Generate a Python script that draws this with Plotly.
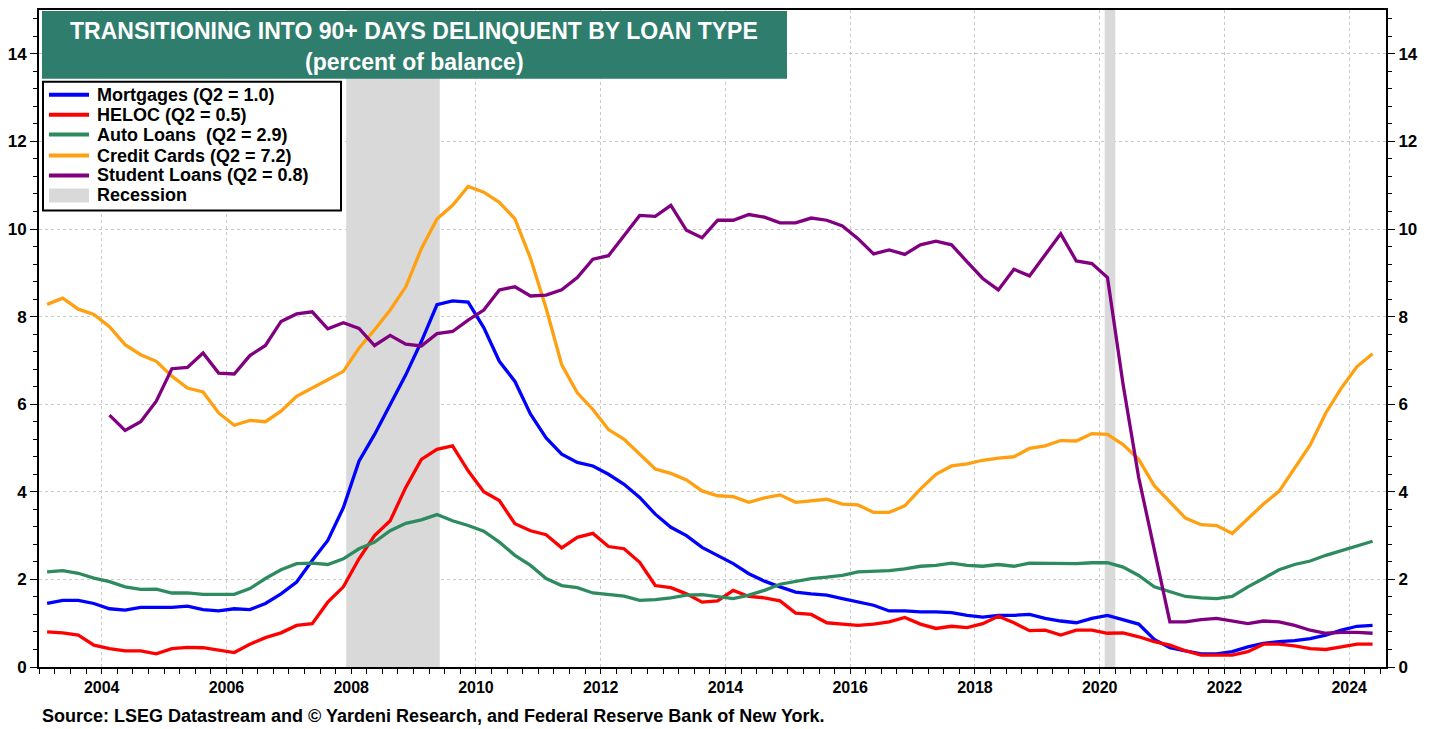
import plotly.graph_objects as go

# ---------------- data (quarterly, 2003Q1 .. 2024Q2) ----------------
quarters = [f"{y}Q{q}" for y in range(2003, 2025) for q in range(1, 5)][:86]

mortgages = [1.45, 1.52, 1.52, 1.45, 1.33, 1.30, 1.36, 1.36, 1.36, 1.39, 1.31, 1.28, 1.33, 1.31, 1.45, 1.67,
             1.94, 2.43, 2.89, 3.64, 4.70, 5.31, 5.99, 6.67, 7.43, 8.27, 8.36, 8.33, 7.75, 6.98, 6.52,
             5.77, 5.23, 4.86, 4.67, 4.59, 4.40, 4.17, 3.87, 3.49, 3.19, 3.00, 2.73, 2.55, 2.36, 2.13, 1.96,
             1.83, 1.71, 1.67, 1.64, 1.56, 1.48, 1.41, 1.28, 1.28, 1.26, 1.26, 1.24, 1.18,
             1.14, 1.18, 1.18, 1.20, 1.11, 1.05, 1.01, 1.11, 1.18, 1.07, 0.98, 0.63, 0.44, 0.37, 0.30, 0.30,
             0.35, 0.46, 0.54, 0.58, 0.60, 0.65, 0.73, 0.84, 0.93, 0.95]

heloc = [0.80, 0.78, 0.73, 0.50, 0.42, 0.37, 0.37, 0.30, 0.42, 0.45, 0.44, 0.39, 0.33, 0.52, 0.67, 0.78,
         0.95, 0.99, 1.48, 1.83, 2.47, 3.00, 3.34, 4.10, 4.74, 4.97, 5.05, 4.48,
         4.00, 3.80, 3.27, 3.11, 3.02, 2.72, 2.96, 3.05, 2.75, 2.70, 2.39, 1.86, 1.81, 1.67, 1.48, 1.51,
         1.75, 1.61, 1.58, 1.51, 1.23, 1.20, 1.01, 0.98, 0.95, 0.98, 1.03, 1.13, 0.98, 0.88, 0.93, 0.90,
         0.99, 1.16, 1.01, 0.83, 0.84, 0.73, 0.84, 0.84, 0.77, 0.78, 0.69, 0.58, 0.50, 0.37, 0.27, 0.27,
         0.27, 0.35, 0.52, 0.52, 0.48, 0.42, 0.40, 0.46, 0.52, 0.52]

auto_loans = [2.17, 2.20, 2.14, 2.03, 1.95, 1.83, 1.77, 1.78, 1.69, 1.69, 1.66, 1.66, 1.66, 1.79, 2.02, 2.22,
              2.36, 2.37, 2.34, 2.47, 2.70, 2.85, 3.11, 3.28, 3.36, 3.48, 3.34, 3.23,
              3.10, 2.85, 2.55, 2.32, 2.02, 1.86, 1.81, 1.69, 1.65, 1.62, 1.52, 1.54, 1.58, 1.64, 1.65, 1.60,
              1.56, 1.64, 1.75, 1.89, 1.96, 2.02, 2.05, 2.09, 2.17, 2.19, 2.20, 2.24, 2.30, 2.32, 2.37, 2.32,
              2.30, 2.34, 2.30, 2.37, 2.37, 2.36, 2.36, 2.38, 2.38, 2.28, 2.09, 1.83, 1.71, 1.61, 1.58, 1.56,
              1.61, 1.83, 2.02, 2.22, 2.34, 2.42, 2.55, 2.66, 2.77, 2.87]

credit_cards = [8.28, 8.42, 8.17, 8.05, 7.77, 7.36, 7.13, 6.98, 6.64, 6.37, 6.28, 5.80, 5.52, 5.63, 5.60, 5.84,
                6.18, 6.36, 6.56, 6.75, 7.28, 7.70, 8.15, 8.68, 9.55, 10.23, 10.54, 10.97,
                10.84, 10.61, 10.23, 9.33, 8.19, 6.90, 6.26, 5.88, 5.42, 5.20, 4.86, 4.52, 4.42, 4.27, 4.02, 3.91,
                3.89, 3.76, 3.86, 3.93, 3.76, 3.80, 3.83, 3.72, 3.70, 3.53, 3.53, 3.68, 4.06, 4.40, 4.59, 4.64,
                4.72, 4.77, 4.80, 4.99, 5.05, 5.17, 5.16, 5.33, 5.31, 5.08, 4.74, 4.14, 3.76, 3.40, 3.25, 3.23,
                3.05, 3.38, 3.72, 4.01, 4.55, 5.07, 5.80, 6.37, 6.86, 7.15]

student_loans = [None, None, None, None,
                 5.75, 5.40, 5.60, 6.07, 6.81, 6.84, 7.17, 6.71, 6.69, 7.11, 7.34, 7.89,
                 8.06, 8.11, 7.72, 7.86, 7.73, 7.34, 7.57, 7.37, 7.33, 7.61, 7.66, 7.92,
                 8.15, 8.61, 8.68, 8.47, 8.49, 8.61, 8.89, 9.31, 9.39, 9.84, 10.31, 10.29, 10.54, 9.97, 9.80, 10.20,
                 10.20, 10.33, 10.27, 10.14, 10.14, 10.25, 10.20, 10.07, 9.78, 9.43, 9.52, 9.42, 9.64, 9.72, 9.64, 9.25,
                 8.87, 8.61, 9.08, 8.93, 9.40, 9.89, 9.27, 9.21, 8.89, 6.45, 4.33, 2.66, 1.03, 1.03, 1.08, 1.11,
                 1.05, 0.99, 1.05, 1.03, 0.95, 0.84, 0.77, 0.79, 0.79, 0.77]

series_names = ["Mortgages (Q2 = 1.0)", "HELOC (Q2 = 0.5)", "Auto Loans  (Q2 = 2.9)",
                "Credit Cards (Q2 = 7.2)", "Student Loans (Q2 = 0.8)"]
series_colors = ["#0000FF", "#FF0000", "#2E8B60", "#FFA010", "#800080"]
recession_label = "Recession"
recession_color = "#D9D9D9"

recession_starts = [2007.92, 2020.08]
recession_ends = [2009.42, 2020.25]

year_ticks = list(range(2004, 2025, 2))
y_ticks = list(range(0, 15, 2))

title_lines = ["TRANSITIONING INTO 90+ DAYS DELINQUENT BY LOAN TYPE", "(percent of balance)"]
source_text = "Source: LSEG Datastream and © Yardeni Research, and Federal Reserve Bank of New York."

# quarter -> decimal year (mid-quarter)
xq = [int(q[:4]) + (int(q[-1]) - 0.5) / 4 for q in quarters]

FONT = "Liberation Sans, Arial, sans-serif"
Y_MAX = 15

# page-pixel helpers (page has an 8px body margin; plot area spans x 39..1386, y 8..667)
PL, PR, PT, PB = 39, 1386, 8, 667
def px(x):
    return (x - PL) / (PR - PL)
def py(y):
    return (PB - y) / (PB - PT)

fig = go.Figure()

# recession shading (through axis scales)
rx, ry = [], []
for s, e in zip(recession_starts, recession_ends):
    rx += [s, s, e, e, s, None]
    ry += [0, Y_MAX, Y_MAX, 0, 0, None]
fig.add_trace(go.Scatter(x=rx, y=ry, mode="lines", fill="toself", fillcolor=recession_color,
                         line=dict(width=0, color=recession_color), name=recession_label,
                         showlegend=False, hoverinfo="skip"))

for name, col, vals in zip(series_names, series_colors,
                           [mortgages, heloc, auto_loans, credit_cards, student_loans]):
    fig.add_trace(go.Scatter(x=xq, y=vals, mode="lines", name=name,
                             line=dict(color=col, width=3.3), connectgaps=False,
                             showlegend=False, hoverinfo="skip"))

# dummy trace for the right axis
fig.add_trace(go.Scatter(x=[None], y=[None], yaxis="y2", showlegend=False, hoverinfo="skip"))

fig.update_layout(
    width=1430, height=721,
    margin=dict(l=31, r=52, t=0, b=62),
    paper_bgcolor="white", plot_bgcolor="white",
    showlegend=False,
    xaxis=dict(range=[2002.995, 2024.59], tickmode="array", tickvals=year_ticks,
               ticktext=[str(y) for y in year_ticks],
               showgrid=True, gridcolor="#C8C8C8", griddash="dot", gridwidth=1,
               showline=True, linecolor="black", linewidth=2, mirror=True,
               ticks="outside", ticklen=5, tickcolor="black", tickwidth=1,
               minor=dict(dtick=0.25, tick0=2003, ticks="outside", ticklen=5,
                          tickcolor="black", showgrid=False),
               tickfont=dict(family=FONT, size=16, color="black", weight="bold"),
               zeroline=False, fixedrange=True),
    yaxis=dict(range=[0, Y_MAX], tickvals=y_ticks, ticktext=[str(v) for v in y_ticks],
               showgrid=True, gridcolor="#C8C8C8", griddash="dot", gridwidth=1,
               showline=True, linecolor="black", linewidth=2,
               ticks="outside", ticklen=7, tickcolor="black", tickwidth=1,
               minor=dict(dtick=0.4, tick0=0, ticks="outside", ticklen=4,
                          tickcolor="black", showgrid=False),
               tickfont=dict(family=FONT, size=17, color="black", weight="bold"),
               zeroline=False, fixedrange=True),
    yaxis2=dict(range=[0, Y_MAX], overlaying="y", side="right",
                tickvals=y_ticks, ticktext=[str(v) for v in y_ticks],
                showgrid=False, showline=True, linecolor="black", linewidth=2,
                ticks="outside", ticklen=7, tickcolor="black", tickwidth=1,
                minor=dict(dtick=0.4, tick0=0, ticks="outside", ticklen=4, tickcolor="black"),
                tickfont=dict(family=FONT, size=17, color="black", weight="bold"),
                zeroline=False, fixedrange=True),
)

# title box
fig.add_shape(type="rect", xref="paper", yref="paper",
              x0=px(42), x1=px(787), y0=py(77), y1=py(9),
              fillcolor="#2F7D6D", line=dict(width=0), layer="above")
fig.add_annotation(xref="paper", yref="paper", x=px(414), y=py(29),
                   text=title_lines[0], showarrow=False, xanchor="center", yanchor="middle",
                   font=dict(family=FONT, size=23, color="white", weight="bold"))
fig.add_annotation(xref="paper", yref="paper", x=px(414), y=py(60),
                   text=title_lines[1], showarrow=False, xanchor="center", yanchor="middle",
                   font=dict(family=FONT, size=23, color="white", weight="bold"))

# legend box (drawn manually to match the reference's compact layout)
fig.add_shape(type="rect", xref="paper", yref="paper",
              x0=px(43), x1=px(341), y0=py(209), y1=py(80),
              fillcolor="white", line=dict(color="black", width=2), layer="above")
legend_rows = [93, 113, 133, 154, 174, 194]
for row_y, name, col in zip(legend_rows, series_names, series_colors):
    fig.add_shape(type="line", xref="paper", yref="paper",
                  x0=px(49), x1=px(89), y0=py(row_y), y1=py(row_y),
                  line=dict(color=col, width=4), layer="above")
    fig.add_annotation(xref="paper", yref="paper", x=px(95), y=py(row_y),
                       text=name, showarrow=False, xanchor="left", yanchor="middle",
                       font=dict(family=FONT, size=18, color="black", weight="bold"))
fig.add_shape(type="rect", xref="paper", yref="paper",
              x0=px(49), x1=px(89), y0=py(201), y1=py(187),
              fillcolor=recession_color, line=dict(width=0), layer="above")
fig.add_annotation(xref="paper", yref="paper", x=px(95), y=py(legend_rows[-1]),
                   text=recession_label, showarrow=False, xanchor="left", yanchor="middle",
                   font=dict(family=FONT, size=18, color="black", weight="bold"))

# source
fig.add_annotation(xref="paper", yref="paper", x=px(40), y=py(716),
                   text=source_text, showarrow=False, xanchor="left", yanchor="middle",
                   font=dict(family=FONT, size=18, color="black", weight="bold"))

fig.write_html("out.html")
